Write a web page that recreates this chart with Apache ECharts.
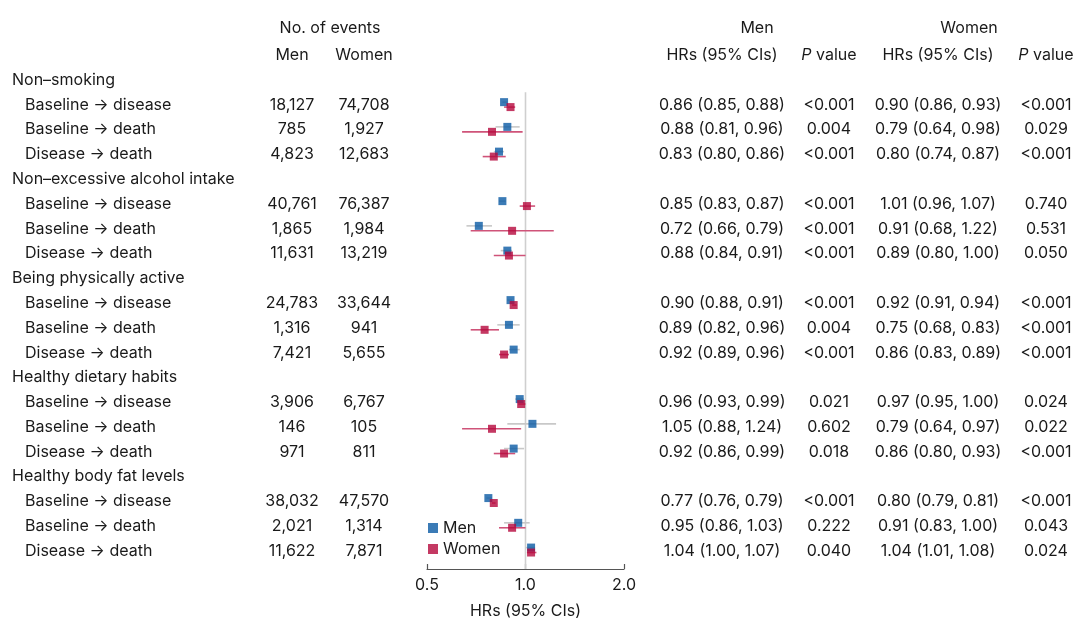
<!DOCTYPE html>
<html>
<head>
<meta charset="utf-8">
<script src="https://cdn.jsdelivr.net/npm/echarts@6/dist/echarts.min.js"></script>
<style>
html,body{margin:0;padding:0;background:#fff;}
#chart{width:1080px;height:624px;}
</style>
</head>
<body>
<div id="chart"></div>
<script>
// ---------- data ----------
const groups = ['Non\u2013smoking', 'Non\u2013excessive alcohol intake', 'Being physically active', 'Healthy dietary habits', 'Healthy body fat levels'];
const transitions = ['Baseline \u2192 disease', 'Baseline \u2192 death', 'Disease \u2192 death'];

const menN   = ['18,127','785','4,823','40,761','1,865','11,631','24,783','1,316','7,421','3,906','146','971','38,032','2,021','11,622'];
const womenN = ['74,708','1,927','12,683','76,387','1,984','13,219','33,644','941','5,655','6,767','105','811','47,570','1,314','7,871'];

const menHR = [0.86,0.88,0.83, 0.85,0.72,0.88, 0.90,0.89,0.92, 0.96,1.05,0.92, 0.77,0.95,1.04];
const menLo = [0.85,0.81,0.80, 0.83,0.66,0.84, 0.88,0.82,0.89, 0.93,0.88,0.86, 0.76,0.86,1.00];
const menHi = [0.88,0.96,0.86, 0.87,0.79,0.91, 0.91,0.96,0.96, 0.99,1.24,0.99, 0.79,1.03,1.07];
const menP  = ['<0.001','0.004','<0.001','<0.001','<0.001','<0.001','<0.001','0.004','<0.001','0.021','0.602','0.018','<0.001','0.222','0.040'];

const womenHR = [0.90,0.79,0.80, 1.01,0.91,0.89, 0.92,0.75,0.86, 0.97,0.79,0.86, 0.80,0.91,1.04];
const womenLo = [0.86,0.64,0.74, 0.96,0.68,0.80, 0.91,0.68,0.83, 0.95,0.64,0.80, 0.79,0.83,1.01];
const womenHi = [0.93,0.98,0.87, 1.07,1.22,1.00, 0.94,0.83,0.89, 1.00,0.97,0.93, 0.81,1.00,1.08];
const womenP  = ['<0.001','0.029','<0.001','0.740','0.531','0.050','<0.001','<0.001','<0.001','0.024','0.022','<0.001','<0.001','0.043','0.024'];

const xTicks = [0.5, 1.0, 2.0];
const headerTop = ['No. of events', 'Men', 'Women'];
const headerSub = ['Men', 'Women', 'HRs (95% CIs)', '{i|P} value', 'HRs (95% CIs)', '{i|P} value'];

// ---------- layout ----------
const FONT = 'Inter, Roboto, sans-serif';
const FS = 16;
const TXT = '#1a1a1a';
const BLUE = '#0a5aa4';
const RED = '#b5083c';
const Y_MIN = -3, Y_MAX = 19.766;
const GRID_TOP = 5.63, GRID_H = 564.37;
const col = { group: 12, sub: 25, menN: 292, womenN: 364, menHR: 722, menP: 829, womenHR: 938, womenP: 1046, events: 330, menHead: 757, womenHead: 969 };
const OFF = 0.1;

// ---------- build rows ----------
const rowOfItem = [];
const labelItems = [];  // [x, row, text, align]
groups.forEach((g, gi) => {
  const r0 = gi * 4;
  labelItems.push([col.group, r0, g, 'left']);
  transitions.forEach((t, ti) => {
    const r = r0 + ti + 1;
    rowOfItem.push(r);
    labelItems.push([col.sub, r, t, 'left']);
  });
});
const f2 = v => v.toFixed(2);
rowOfItem.forEach((r, i) => {
  labelItems.push([col.menN, r, menN[i], 'center']);
  labelItems.push([col.womenN, r, womenN[i], 'center']);
  labelItems.push([col.menHR, r, `${f2(menHR[i])} (${f2(menLo[i])}, ${f2(menHi[i])})`, 'center']);
  labelItems.push([col.menP, r, menP[i], 'center']);
  labelItems.push([col.womenHR, r, `${f2(womenHR[i])} (${f2(womenLo[i])}, ${f2(womenHi[i])})`, 'center']);
  labelItems.push([col.womenP, r, womenP[i], 'center']);
});
labelItems.push([col.events, -2.1, headerTop[0], 'center']);
labelItems.push([col.menHead, -2.1, headerTop[1], 'center']);
labelItems.push([col.womenHead, -2.1, headerTop[2], 'center']);
[col.menN, col.womenN, col.menHR, col.menP, col.womenHR, col.womenP].forEach((x, k) => {
  labelItems.push([x, -1, headerSub[k], 'center']);
});

const menPts = menHR.map((v, i) => [v, rowOfItem[i] - OFF]);
const womenPts = womenHR.map((v, i) => [v, rowOfItem[i] + OFF]);
const menCI = menLo.map((v, i) => [v, menHi[i], rowOfItem[i] - OFF]);
const womenCI = womenLo.map((v, i) => [v, womenHi[i], rowOfItem[i] + OFF]);

function ciSeries(data, color, width) {
  return {
    type: 'custom', xAxisIndex: 0, yAxisIndex: 0, data: data,
    encode: { x: [0, 1], y: 2 }, silent: true, z: 2,
    renderItem: (params, api) => {
      const a = api.coord([api.value(0), api.value(2)]);
      const b = api.coord([api.value(1), api.value(2)]);
      return { type: 'line', shape: { x1: a[0], y1: a[1], x2: b[0], y2: b[1] },
               style: { stroke: color, lineWidth: width } };
    }
  };
}

const chart = echarts.init(document.getElementById('chart'), null, { renderer: 'canvas' });
chart.setOption({
  backgroundColor: '#fff',
  animation: false,
  textStyle: { fontFamily: FONT },
  legend: {
    data: ['Men', 'Women'], orient: 'vertical', left: 423, top: 515,
    itemWidth: 10, itemHeight: 10, itemGap: 5,
    textStyle: { fontFamily: FONT, fontSize: FS, color: TXT }
  },
  grid: [
    { left: 427, width: 197, top: GRID_TOP, height: GRID_H },
    { left: 0, width: 1080, top: GRID_TOP, height: GRID_H }
  ],
  xAxis: [
    {
      type: 'log', logBase: 2, min: xTicks[0], max: xTicks[xTicks.length - 1], gridIndex: 0,
      name: 'HRs (95% CIs)', nameLocation: 'middle', nameGap: 34,
      nameTextStyle: { fontFamily: FONT, fontSize: FS, color: TXT },
      axisLine: { onZero: false, lineStyle: { color: '#555', width: 1.2 } },
      axisTick: { inside: true, length: 5, lineStyle: { color: '#555', width: 1.2 } },
      axisLabel: { fontFamily: FONT, fontSize: FS, color: TXT, margin: 8, formatter: v => Number(v).toFixed(1) },
      splitLine: { show: false }
    },
    { type: 'value', min: 0, max: 1080, gridIndex: 1, show: false }
  ],
  yAxis: [
    { type: 'value', inverse: true, min: Y_MIN, max: Y_MAX, gridIndex: 0, show: false },
    { type: 'value', inverse: true, min: Y_MIN, max: Y_MAX, gridIndex: 1, show: false }
  ],
  series: [
    {
      type: 'line', xAxisIndex: 0, yAxisIndex: 0, data: [[1, 0.5], [1, Y_MAX]],
      symbol: 'none', silent: true, z: 1,
      lineStyle: { color: '#cfcfcf', width: 1.6 }
    },
    ciSeries(menCI, '#c8c8c8', 1.6),
    {
      name: 'Men', type: 'scatter', xAxisIndex: 0, yAxisIndex: 0, data: menPts,
      symbol: 'rect', symbolSize: 8, itemStyle: { color: BLUE }, z: 3
    },
    ciSeries(womenCI, '#cf5379', 1.6),
    {
      name: 'Women', type: 'scatter', xAxisIndex: 0, yAxisIndex: 0, data: womenPts,
      symbol: 'rect', symbolSize: 8, itemStyle: { color: RED }, z: 5
    },
    {
      type: 'custom', xAxisIndex: 1, yAxisIndex: 1, silent: true, z: 10,
      data: labelItems.map(d => [d[0], d[1]]),
      encode: { x: 0, y: 1 },
      renderItem: (params, api) => {
        const item = labelItems[params.dataIndex];
        const p = api.coord([item[0], item[1]]);
        return {
          type: 'text', x: p[0], y: p[1],
          style: {
            text: item[2], align: item[3], verticalAlign: 'middle',
            fontFamily: FONT, fontSize: FS, fill: TXT,
            rich: { i: { fontStyle: 'italic', fontFamily: FONT, fontSize: FS, fill: TXT } }
          }
        };
      }
    }
  ]
});
</script>
</body>
</html>
